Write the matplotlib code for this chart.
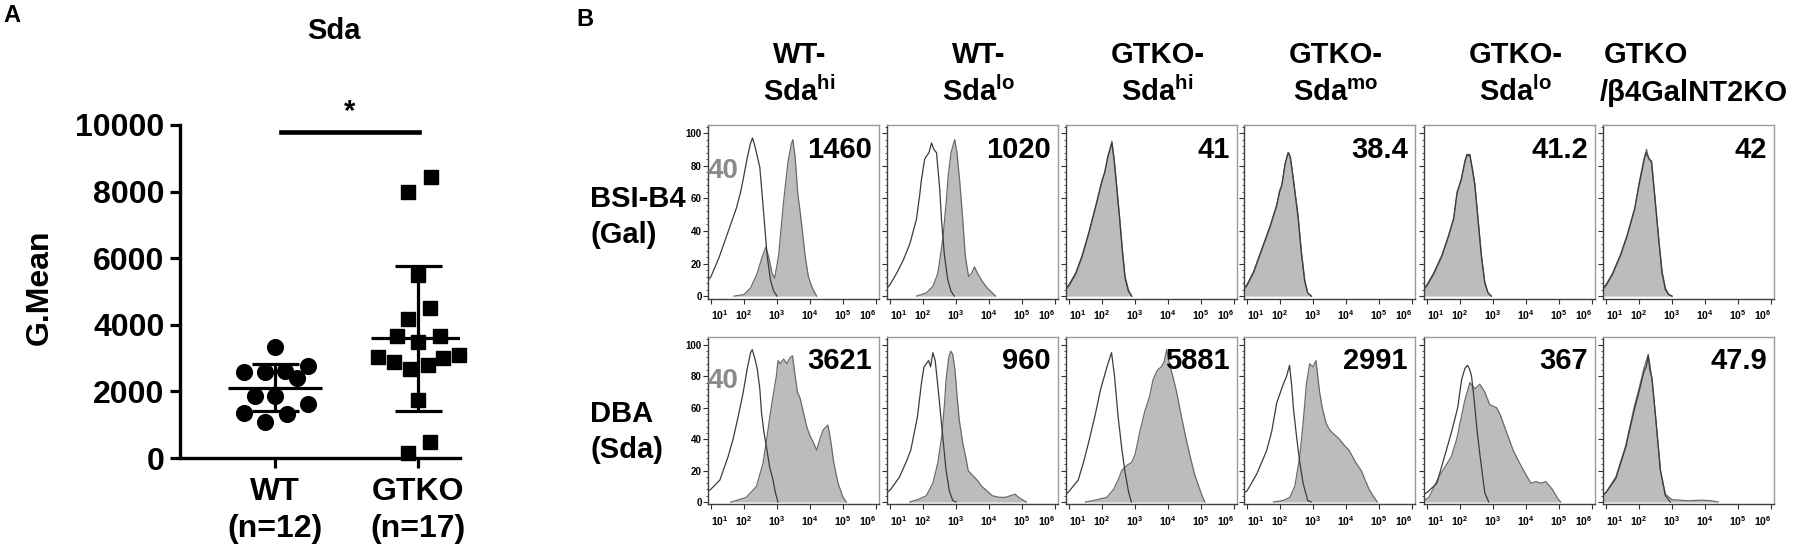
import matplotlib
matplotlib.use("Agg")
import matplotlib.pyplot as plt
import numpy as np
from matplotlib.ticker import MultipleLocator, FixedLocator, LogLocator, NullFormatter

plt.rcParams['font.family'] = ['Liberation Sans', 'DejaVu Sans']
plt.rcParams['font.weight'] = 'bold'
plt.rcParams['mathtext.fontset'] = 'custom'
plt.rcParams['mathtext.rm'] = 'Liberation Sans'
plt.rcParams['mathtext.bf'] = 'Liberation Sans:bold'
plt.rcParams['mathtext.it'] = 'Liberation Sans:italic'

# ---------------- panel A data (G.Mean of Sda) ----------------
groups = ['WT\n(n=12)', 'GTKO\n(n=17)']
wt_gmean = [3340, 2590, 2590, 2600, 2750, 2390, 1870, 1870, 1630, 1360, 1310, 1070]
wt_jitter = [0, -0.22, -0.07, 0.07, 0.23, 0.15, -0.14, 0, 0.23, -0.22, 0.08, -0.07]
gtko_gmean = [8450, 8000, 5490, 4510, 4180, 3670, 3670, 3480, 3020, 2890, 2990,
              3080, 2680, 2780, 1730, 470, 140]
gtko_jitter = [0.09, -0.07, 0, 0.08, -0.07, -0.15, 0.15, 0, -0.28, -0.17, 0.17,
               0.28, -0.06, 0.07, 0, 0.08, -0.07]

# ---------------- panel B data (histograms, x = log10 fluorescence, y = % of max) ----------------
col_top = ['WT-', 'WT-', 'GTKO-', 'GTKO-', 'GTKO-', 'GTKO']
col_bottom = [r'Sda$^{\mathrm{hi}}$', r'Sda$^{\mathrm{lo}}$', r'Sda$^{\mathrm{hi}}$',
              r'Sda$^{\mathrm{mo}}$', r'Sda$^{\mathrm{lo}}$', '/β4GalNT2KO']
row_labels = [('BSI-B4', '(Gal)'), ('DBA', '(Sda)')]
bsi_gmfi = ['1460', '1020', '41', '38.4', '41.2', '42']
dba_gmfi = ['3621', '960', '5881', '2991', '367', '47.9']
ctrl_gmfi = '40'

bsi_ctrl = [
    [(0.91, 10), (1.0, 12), (1.25, 24), (1.51, 39), (1.77, 54), (1.9, 64), (1.97, 71), (2.1, 85),
     (2.2, 94), (2.26, 97), (2.33, 92), (2.4, 86), (2.48, 79), (2.6, 50), (2.7, 25), (2.8, 10),
     (2.9, 3), (3.0, 0)],
    [(0.91, 5), (1.0, 7), (1.2, 14), (1.4, 22), (1.6, 32), (1.8, 47), (1.9, 62), (1.95, 71),
     (2.05, 84), (2.11, 86), (2.18, 88), (2.26, 94), (2.33, 90), (2.41, 88), (2.51, 65),
     (2.56, 47), (2.65, 25), (2.75, 10), (2.85, 3), (2.95, 0)],
    [(0.91, 5), (1.0, 7), (1.2, 14), (1.4, 25), (1.6, 39), (1.83, 57), (2.0, 71), (2.08, 76),
     (2.18, 86), (2.3, 94), (2.37, 83), (2.44, 68), (2.54, 46), (2.62, 27), (2.7, 11), (2.8, 3),
     (2.9, 0)],
    [(0.91, 5), (1.0, 7), (1.2, 15), (1.45, 29), (1.7, 43), (1.9, 56), (1.99, 64), (2.05, 68),
     (2.09, 72), (2.15, 81), (2.22, 86), (2.26, 88), (2.32, 85), (2.38, 75), (2.45, 64),
     (2.55, 48), (2.65, 26), (2.75, 9), (2.84, 2), (2.95, 0)],
    [(0.91, 5), (1.0, 7), (1.2, 14), (1.45, 25), (1.65, 37), (1.81, 48), (1.91, 63), (2.04, 72),
     (2.15, 83), (2.21, 87), (2.24, 86), (2.3, 87), (2.38, 77), (2.45, 68), (2.55, 46),
     (2.65, 24), (2.75, 8), (2.85, 2), (2.95, 0)],
    [(0.91, 5), (1.0, 7), (1.2, 14), (1.45, 26), (1.65, 38), (1.87, 54), (2.0, 68), (2.08, 76),
     (2.15, 83), (2.21, 88), (2.26, 86), (2.32, 84), (2.38, 82), (2.45, 67), (2.51, 54),
     (2.6, 34), (2.7, 14), (2.8, 4), (2.9, 1), (3.0, 0)],
]
bsi_stain = [
    [(1.7, 0), (2.0, 1), (2.2, 5), (2.4, 14), (2.55, 24), (2.66, 30), (2.75, 24), (2.85, 14),
     (2.93, 11), (3.05, 25), (3.2, 58), (3.33, 82), (3.43, 93), (3.48, 96), (3.55, 85),
     (3.63, 63), (3.73, 47), (3.85, 25), (3.95, 12), (4.07, 5), (4.2, 0)],
    [(1.8, 0), (2.1, 2), (2.3, 6), (2.45, 14), (2.6, 35), (2.71, 59), (2.76, 73), (2.85, 88),
     (2.96, 96), (3.03, 88), (3.11, 71), (3.19, 51), (3.28, 25), (3.38, 12), (3.47, 14),
     (3.56, 18), (3.65, 14), (3.8, 9), (3.95, 5), (4.1, 2), (4.2, 0)],
    [(0.91, 4), (1.0, 6), (1.2, 13), (1.4, 24), (1.6, 38), (1.83, 56), (2.0, 70), (2.08, 75),
     (2.18, 85), (2.3, 95), (2.37, 84), (2.44, 69), (2.54, 47), (2.62, 28), (2.7, 12), (2.8, 4),
     (2.9, 0)],
    [(0.91, 4), (1.0, 6), (1.2, 14), (1.45, 28), (1.7, 42), (1.9, 55), (1.99, 65), (2.05, 67),
     (2.09, 73), (2.15, 80), (2.24, 88), (2.3, 86), (2.38, 76), (2.45, 65), (2.55, 49),
     (2.65, 27), (2.75, 10), (2.84, 2), (2.95, 0)],
    [(0.91, 4), (1.0, 6), (1.2, 13), (1.45, 24), (1.65, 36), (1.81, 47), (1.91, 64), (2.04, 71),
     (2.15, 82), (2.21, 86), (2.24, 87), (2.3, 86), (2.38, 78), (2.45, 69), (2.55, 47),
     (2.65, 25), (2.75, 9), (2.85, 2), (2.95, 0)],
    [(0.91, 4), (1.0, 6), (1.2, 13), (1.45, 25), (1.65, 37), (1.87, 53), (2.0, 69), (2.08, 77),
     (2.15, 84), (2.23, 90), (2.3, 84), (2.38, 83), (2.45, 68), (2.51, 55), (2.6, 35),
     (2.7, 15), (2.8, 5), (2.9, 1), (3.0, 0)],
]
dba_ctrl = [
    [(0.91, 7), (0.99, 8), (1.27, 14), (1.52, 29), (1.67, 40), (1.82, 54), (1.97, 69), (2.1, 85),
     (2.2, 95), (2.25, 97), (2.32, 92), (2.4, 85), (2.48, 72), (2.53, 57), (2.6, 45), (2.68, 35),
     (2.78, 22), (2.88, 14), (2.95, 6), (3.03, 0)],
    [(0.91, 6), (1.02, 8), (1.29, 16), (1.5, 26), (1.63, 33), (1.83, 54), (1.95, 75), (2.03, 86),
     (2.1, 88), (2.17, 90), (2.23, 86), (2.3, 95), (2.37, 90), (2.44, 76), (2.57, 48), (2.7, 20),
     (2.8, 7), (2.9, 1), (3.0, 0)],
    [(0.91, 5), (1.01, 7), (1.28, 14), (1.45, 26), (1.62, 40), (1.8, 56), (1.95, 71), (2.15, 86),
     (2.29, 95), (2.38, 80), (2.49, 54), (2.6, 34), (2.69, 20), (2.8, 7), (2.89, 0)],
    [(0.91, 6), (1.0, 7), (1.3, 18), (1.6, 33), (1.75, 45), (1.9, 63), (2.1, 75), (2.2, 80),
     (2.29, 87), (2.35, 75), (2.41, 59), (2.5, 42), (2.6, 25), (2.7, 12), (2.84, 1), (2.95, 0)],
    [(0.91, 5), (1.0, 6), (1.3, 12), (1.56, 31), (1.75, 45), (1.93, 60), (2.05, 78), (2.15, 85),
     (2.23, 87), (2.3, 84), (2.35, 80), (2.42, 67), (2.52, 45), (2.61, 29), (2.75, 6), (2.87, 0)],
    [(0.91, 5), (1.0, 6), (1.3, 15), (1.6, 35), (1.85, 58), (2.0, 70), (2.15, 83), (2.22, 86),
     (2.28, 93), (2.33, 84), (2.4, 78), (2.5, 55), (2.65, 20), (2.8, 4), (2.95, 0)],
]
dba_stain = [
    [(1.6, 0), (1.77, 1), (2.07, 3), (2.38, 10), (2.58, 25), (2.68, 39), (2.83, 61), (2.98, 80),
     (3.03, 90), (3.1, 88), (3.2, 91), (3.3, 88), (3.4, 92), (3.47, 93), (3.55, 80), (3.62, 70),
     (3.7, 66), (3.8, 57), (3.9, 48), (4.0, 42), (4.1, 38), (4.2, 33), (4.3, 40), (4.4, 46),
     (4.54, 49), (4.62, 40), (4.72, 25), (4.85, 12), (5.0, 3), (5.1, 0)],
    [(1.6, 0), (1.9, 2), (2.1, 4), (2.3, 12), (2.45, 25), (2.57, 42), (2.65, 62), (2.7, 78),
     (2.78, 92), (2.84, 96), (2.9, 94), (2.97, 84), (3.03, 68), (3.1, 52), (3.2, 38), (3.3, 28),
     (3.37, 20), (3.5, 17), (3.64, 14), (3.78, 10), (3.91, 7.6), (4.1, 4), (4.31, 3), (4.5, 3),
     (4.65, 4), (4.79, 5), (4.9, 3), (5.05, 1), (5.13, 0)],
    [(1.5, 0), (1.75, 1), (2.15, 3), (2.35, 8), (2.49, 14), (2.6, 20), (2.69, 22), (2.8, 24),
     (2.89, 25), (3.0, 30), (3.15, 45), (3.3, 58), (3.44, 67), (3.55, 78), (3.68, 84),
     (3.8, 86), (3.88, 89), (3.96, 97), (4.04, 88), (4.12, 82), (4.25, 71), (4.43, 52),
     (4.55, 40), (4.67, 29), (4.8, 18), (4.93, 10), (5.05, 3), (5.12, 0)],
    [(1.8, 0), (2.1, 1), (2.3, 3), (2.45, 10), (2.6, 29), (2.7, 50), (2.8, 75), (2.9, 88),
     (3.0, 86), (3.09, 90), (3.2, 70), (3.28, 60), (3.4, 50), (3.5, 46), (3.59, 44), (3.7, 42),
     (3.8, 40), (3.95, 36), (4.09, 33), (4.3, 25), (4.46, 20), (4.6, 13), (4.7, 8), (4.85, 3),
     (4.95, 0)],
    [(0.91, 1), (1.06, 3), (1.36, 16), (1.74, 29), (1.9, 40), (2.0, 50), (2.15, 65), (2.3, 76),
     (2.45, 72), (2.6, 75), (2.75, 70), (2.9, 62), (3.0, 61), (3.11, 60), (3.23, 55), (3.4, 45),
     (3.61, 33), (3.8, 25), (3.98, 18), (4.15, 12), (4.3, 13), (4.45, 12), (4.6, 13), (4.8, 8),
     (4.97, 2), (5.05, 0)],
    [(0.91, 4), (1.0, 6), (1.3, 16), (1.6, 36), (1.85, 60), (2.0, 72), (2.15, 85), (2.28, 94),
     (2.38, 80), (2.5, 55), (2.65, 20), (2.8, 5), (3.0, 1.5), (3.5, 0.8), (3.9, 1.2), (4.2, 0.8),
     (4.4, 0)],
]

# ---------------- figure ----------------
W, H = 1797, 548
fig = plt.figure(figsize=(W / 100, H / 100), dpi=100)


def box(left, top, right, bottom):
    return fig.add_axes([left / W, 1 - bottom / H, (right - left) / W, (bottom - top) / H])


def px(x, y):
    return x / W, 1 - y / H


# ---- panel A ----
fig.text(*px(3, 15), 'A', fontsize=17, ha='left', va='center')
fig.text(*px(334, 31), 'Sda', fontsize=21, ha='center', va='center')
fig.text(*px(40, 287), 'G.Mean', fontsize=23, rotation=90, ha='center', va='center')

axA = box(180, 125, 460, 458)
axA.set_xlim(-0.664, 1.29)
axA.set_ylim(0, 10000)
for s in ['top', 'right']:
    axA.spines[s].set_visible(False)
for s in ['left', 'bottom']:
    axA.spines[s].set_linewidth(2.4)

for i, (vals, jit, mk, ms) in enumerate([(wt_gmean, wt_jitter, 'o', 11.3),
                                          (gtko_gmean, gtko_jitter, 's', 10)]):
    vals = np.asarray(vals, float)
    axA.plot(i + np.asarray(jit), vals, mk, ms=ms, color='black', mec='black',
             clip_on=False, zorder=3)
    m, sd = vals.mean(), vals.std(ddof=1)
    axA.hlines(m, i - 0.33, i + 0.33, color='black', lw=2.3, zorder=4)
    axA.vlines(i, m - sd, m + sd, color='black', lw=2.3, zorder=4)
    axA.hlines([m - sd, m + sd], i - 0.165, i + 0.165, color='black', lw=2.3, zorder=4)

axA.plot([0.04, 1.007], [9790, 9790], color='black', lw=3.3, clip_on=False)
axA.text(0.52, 10380, '*', fontsize=21, ha='center', va='center')

axA.set_yticks(range(0, 10001, 2000))
axA.set_xticks([0, 1])
axA.set_xticklabels(groups, linespacing=1.3)
axA.tick_params(axis='both', direction='out', length=7.5, width=2.3, labelsize=23, pad=3.5)
axA.tick_params(axis='x', pad=6)

# ---- panel B ----
fig.text(*px(576, 20), 'B', fontsize=17, ha='left', va='center')

col_left = [708, 887, 1066, 1244, 1424, 1603]
col_w = 171
rows = [(125, 298.6), (337, 504.4)]
row_data = [(bsi_ctrl, bsi_stain, bsi_gmfi), (dba_ctrl, dba_stain, dba_gmfi)]

for c, left in enumerate(col_left):
    if c < 5:
        cx = left + col_w / 2 + 6
        fig.text(*px(cx, 63), col_top[c], fontsize=21, ha='center', va='baseline')
        fig.text(*px(cx, 101), col_bottom[c], fontsize=21, ha='center', va='baseline')
    else:
        fig.text(*px(left + 1, 63), col_top[c], fontsize=21, ha='left', va='baseline')
        fig.text(*px(left - 3, 101), col_bottom[c], fontsize=21, ha='left', va='baseline')

for r, (top, bottom) in enumerate(rows):
    ctrl_list, stain_list, gmfi = row_data[r]
    l1, l2 = row_labels[r]
    base1 = 207 if r == 0 else 422
    fig.text(*px(590, base1), l1, fontsize=21, ha='left', va='baseline')
    fig.text(*px(590, base1 + 36), l2, fontsize=21, ha='left', va='baseline')
    for c, left in enumerate(col_left):
        ax = box(left, top, left + col_w, bottom)
        ax.set_xscale('log')
        ax.set_xlim(10 ** 0.91, 10 ** 6.09)
        ax.set_ylim(-1.5, 105)
        st = np.array(stain_list[c])
        ct = np.array(ctrl_list[c])
        ax.fill_between(10 ** st[:, 0], st[:, 1], 0, color='#bcbcbc', lw=0, zorder=1)
        ax.plot(10 ** st[:, 0], st[:, 1], color='#6a6a6a', lw=0.9, zorder=2)
        ax.plot(10 ** ct[:, 0], ct[:, 1], color='#3c3c3c', lw=0.9, zorder=3)

        for s in ['top', 'right']:
            ax.spines[s].set_color('#9a9a9a')
            ax.spines[s].set_linewidth(1.0)
        for s in ['left', 'bottom']:
            ax.spines[s].set_color('#404040')
            ax.spines[s].set_linewidth(1.0)

        ax.xaxis.set_major_locator(FixedLocator([10.0 ** k for k in range(1, 7)]))
        ax.xaxis.set_minor_locator(LogLocator(base=10, subs=np.arange(2, 10)))
        ax.xaxis.set_minor_formatter(NullFormatter())
        ax.set_xticklabels([r'$\mathbf{10^{%d}}$' % k for k in range(1, 7)])
        xl = ax.get_xticklabels()
        xl[0].set_ha('left')
        xl[-1].set_ha('right')
        ax.yaxis.set_minor_locator(MultipleLocator(4))
        ax.set_yticks(range(0, 101, 20))
        ax.tick_params(which='major', direction='out', length=3.6, width=0.8,
                       color='#303030', pad=3.5)
        ax.tick_params(axis='x', labelsize=7.5)
        ax.tick_params(which='minor', direction='out', length=1.8, width=0.6, color='#303030')
        ax.tick_params(axis='y', labelsize=7, pad=1)
        if c == 0:
            ax.set_yticklabels([str(v) for v in range(0, 101, 20)])
            ax.text(-0.005, 77, ctrl_gmfi, fontsize=20, color='#8a8a8a', ha='left',
                    va='center', transform=ax.get_yaxis_transform(), zorder=5)
        else:
            ax.set_yticklabels([])
        ax.text(1 - 7 / col_w, 0.81, gmfi[c], fontsize=21, ha='right', va='baseline',
                transform=ax.transAxes, zorder=5)

fig.savefig('out.png', dpi=100)
